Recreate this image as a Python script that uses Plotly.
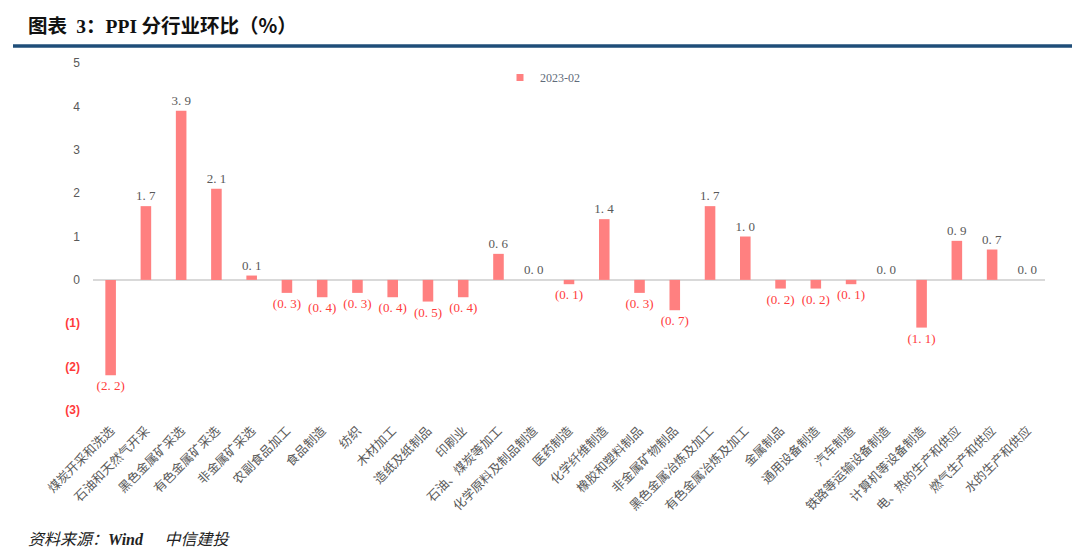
import plotly.graph_objects as go

categories = ["煤炭开采和洗选", "石油和天然气开采", "黑色金属矿采选", "有色金属矿采选", "非金属矿采选",
              "农副食品加工", "食品制造", "纺织", "木材加工", "造纸及纸制品", "印刷业",
              "石油、煤炭等加工", "化学原料及制品制造", "医药制造", "化学纤维制造", "橡胶和塑料制品",
              "非金属矿物制品", "黑色金属冶炼及加工", "有色金属冶炼及加工", "金属制品", "通用设备制造",
              "汽车制造", "铁路等运输设备制造", "计算机等设备制造", "电、热的生产和供应",
              "燃气生产和供应", "水的生产和供应"]
values_2023_02 = [-2.2, 1.7, 3.9, 2.1, 0.1, -0.3, -0.4, -0.3, -0.4, -0.5, -0.4, 0.6, 0.0, -0.1,
                  1.4, -0.3, -0.7, 1.7, 1.0, -0.2, -0.2, -0.1, 0.0, -1.1, 0.9, 0.7, 0.0]
series_name = "2023-02"
y_tick_vals = [5, 4, 3, 2, 1, 0, -1, -2, -3]

BAR = "#FF8080"
GRAY = "#595959"
RED = "#FF3B3B"

W, H = 1072, 545
L, R, T, B = 85, 35, 55, 143
PH = H - T - B
PW = W - L - R

def fmt(v):
    s = f"{abs(v):.1f}".replace(".", ". ")
    return f"({s})" if v < 0 else s

def tick_text(v):
    if v < 0:
        return f'<span style="color:{RED}"><b>({abs(v)})</b></span>'
    return str(v)

fig = go.Figure()
fig.add_trace(go.Bar(
    x=categories, y=values_2023_02, name=series_name, showlegend=False,
    marker=dict(color=BAR, line=dict(width=0)),
    text=[fmt(v) for v in values_2023_02],
    textposition="outside", constraintext="none",
    textfont=dict(family="Liberation Serif, serif", size=13,
                  color=[RED if v < 0 else GRAY for v in values_2023_02]),
    cliponaxis=False,
))
# legend entry with small square marker
fig.add_trace(go.Scatter(x=[None], y=[None], mode="markers", name=series_name,
                         marker=dict(symbol="square", size=7, color=BAR)))

fig.update_layout(
    width=W, height=H,
    paper_bgcolor="white", plot_bgcolor="white",
    margin=dict(l=L, r=R, t=T, b=B),
    bargap=0.7,
    showlegend=True,
    legend=dict(orientation="h", x=(492 - L) / PW, y=1.0, xanchor="left", yanchor="top",
                font=dict(family="Liberation Serif, serif", size=12, color="#5F6B7A"),
                itemwidth=30, bgcolor="rgba(0,0,0,0)"),
    font=dict(family="Noto Sans CJK SC", color=GRAY),
    xaxis=dict(tickangle=-45, tickfont=dict(family="Noto Sans CJK SC", size=12.5, color=GRAY),
               showgrid=False, showline=False, ticks="", ticklabelstandoff=10),
    yaxis=dict(range=[-3, 5], tickvals=y_tick_vals, ticktext=[tick_text(v) for v in y_tick_vals],
               showgrid=False, zeroline=True, zerolinecolor="#D9D9D9", zerolinewidth=2,
               tickfont=dict(family="Liberation Sans, Arial", size=12, color=GRAY),
               ticks="", ticklabelstandoff=12),
)

serif = "font-family:'Liberation Serif', serif"
fig.add_annotation(
    text=f"<b>图表 <span style=\"{serif}\"> 3</span>：<span style=\"{serif}\">PPI</span> 分行业环比（%）</b>",
    xref="paper", yref="paper",
    x=(18 - L) / PW, y=1 + (T - 0) / PH, xanchor="left", yanchor="top",
    showarrow=False, font=dict(family="Noto Sans CJK SC", size=19.5, color="#111111"))
fig.add_shape(type="line", xref="paper", yref="paper", x0=(5 - L) / PW, x1=(1064 - L) / PW,
              y0=1 + (T - 38) / PH, y1=1 + (T - 38) / PH, line=dict(color="#1F4E79", width=3.5))

fig.add_annotation(
    text=f"<i>资料来源：<b><span style=\"{serif}\">Wind</span></b>      中信建投</i>",
    xref="paper", yref="paper",
    x=(18 - L) / PW, y=-(530 - (T + PH)) / PH, xanchor="left", yanchor="middle",
    showarrow=False, font=dict(family="Noto Sans CJK SC", size=16, color="#222222"))

fig.write_html("out.html")
